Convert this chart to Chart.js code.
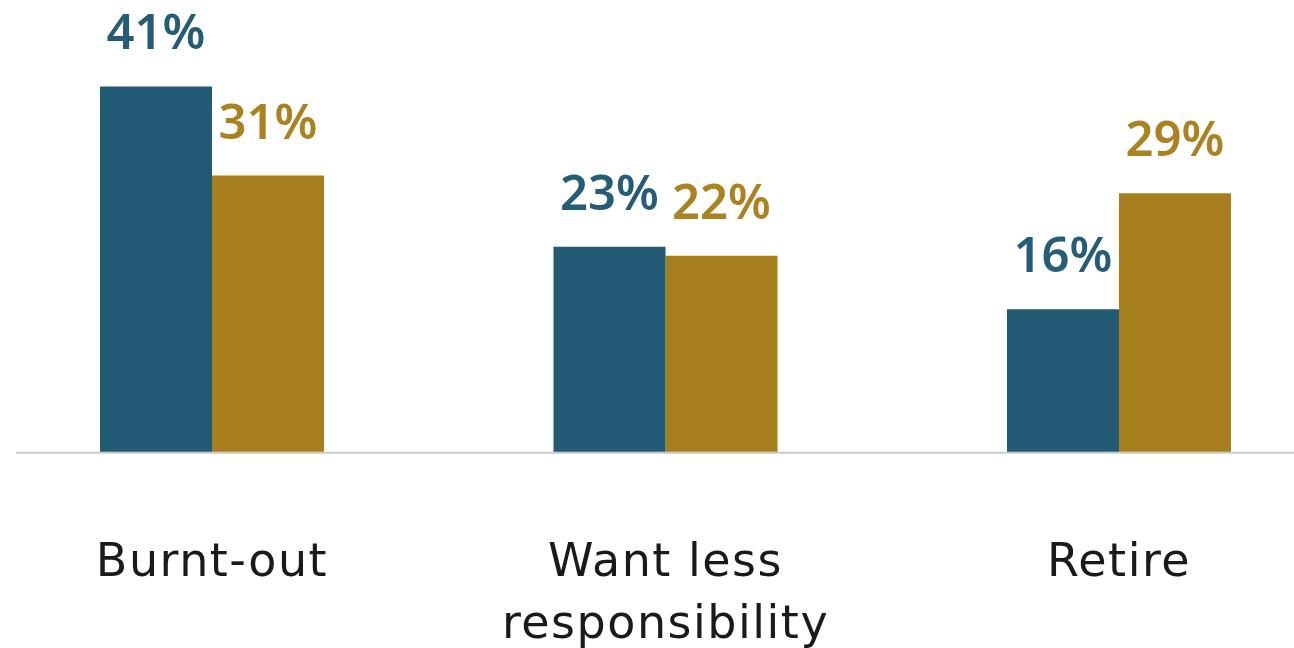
<!DOCTYPE html>
<html>
<head>
<meta charset="utf-8">
<script src="https://cdn.jsdelivr.net/npm/chart.js@4.4.0/dist/chart.umd.min.js"></script>
<style>
  html, body { margin: 0; padding: 0; background: #fff; overflow: hidden; }
  #wrap { position: relative; width: 1294px; height: 648px; }
</style>
</head>
<body>
<div id="wrap"><canvas id="mycanvas"></canvas></div>
<script>
// chart data
var categories = ['Burnt-out', ['Want less', 'responsibility'], 'Retire'];
var seriesNames = ['Group A', 'Group B'];
var blueValues = [41, 23, 16];
var goldValues = [31, 22, 29];

var blue = '#215a72';
var gold = '#a67e1d';

// draws the "41%" style labels above each bar
var valueLabels = {
	id: 'valueLabels',
	afterDatasetsDraw: function(chart)
	{
		var ctx = chart.ctx;
		ctx.save();
		ctx.letterSpacing = '0px';
		ctx.font = '600 49px "Noto Sans"';
		ctx.textAlign = 'center';
		ctx.textBaseline = 'alphabetic';
		chart.data.datasets.forEach(function(ds, i)
		{
			var meta = chart.getDatasetMeta(i);
			ctx.fillStyle = ds.labelColor;
			meta.data.forEach(function(bar, j)
			{
				ctx.fillText(ds.data[j] + '%', bar.x, bar.y - 37);
			});
		});
		ctx.restore();
	}
};

// light grey baseline running across the page
var baseLine = {
	id: 'baseLine',
	beforeDraw: function(chart)
	{
		// the category names are set a little wider
		chart.ctx.letterSpacing = '1.5px';
	},
	beforeDatasetsDraw: function(chart)
	{
		var ctx = chart.ctx;
		var y = chart.scales.y.getPixelForValue(0) + 1;
		ctx.save();
		ctx.strokeStyle = '#c9c9c9';
		ctx.lineWidth = 2;
		ctx.beginPath();
		ctx.moveTo(16, y);
		ctx.lineTo(chart.width, y);
		ctx.stroke();
		ctx.restore();
	}
};

var chartdata =
{
	labels: categories,
	datasets:
	[{
		label: seriesNames[0],
		backgroundColor: blue,
		labelColor: '#245d75',
		data: blueValues,
		clip: false
	},
	{
		label: seriesNames[1],
		backgroundColor: gold,
		labelColor: '#ab8220',
		data: goldValues,
		clip: false
	}]
};

var ctx = document.getElementById('mycanvas');
var barGraph = new Chart(ctx, {
	type: 'bar',
	data: chartdata,
	plugins: [baseLine, valueLabels],
	options: {
		responsive: true,
		maintainAspectRatio: false,
		animation: false,
		layout: { padding: { left: 212, right: 175, top: 0, bottom: -82 } },
		datasets: { bar: { categoryPercentage: 0.494, barPercentage: 1.0 } },
		plugins: {
			legend: { display: false },
			tooltip: { enabled: false }
		},
		scales: {
			x: {
				offset: false,
				grid: { display: false },
				border: { display: false },
				ticks: {
					autoSkip: false,
					maxRotation: 0,
					color: '#1a1a1a',
					padding: 73,
					font: { family: '"DejaVu Sans"', size: 46, lineHeight: 1.35 }
				}
			},
			y: {
				display: false,
				min: 0,
				max: 50.7
			}
		}
	}
});
</script>
</body>
</html>
